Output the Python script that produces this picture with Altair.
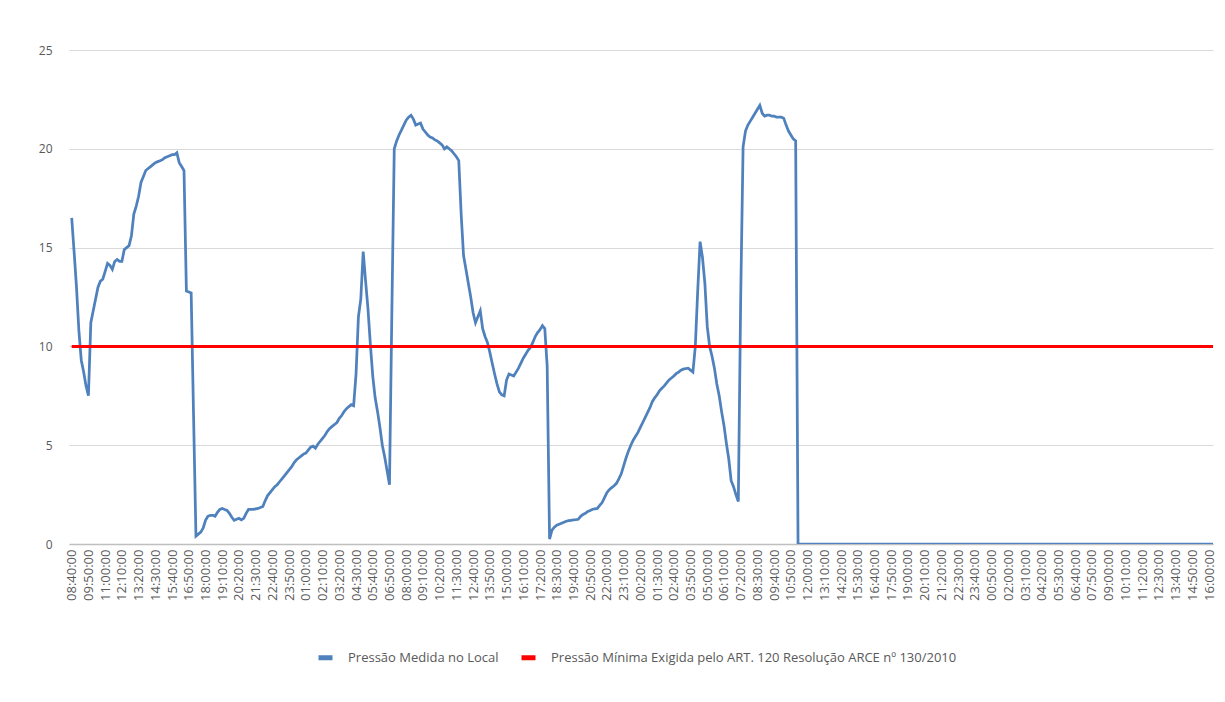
import altair as alt
import pandas as pd

# ---- data (10-minute readings) ----
start_time = "2016-03-01 08:40:00"
step_minutes = 10

pressure_measured = [
    16.5, 14.8, 13.0, 10.8, 9.3, 8.7, 8.0, 7.5, 11.2, 11.8,
    12.4, 13.0, 13.3, 13.4, 13.8, 14.2, 14.1, 13.9, 14.3, 14.4,
    14.3, 14.3, 14.9, 15.0, 15.1, 15.6, 16.7, 17.1, 17.6, 18.3,
    18.6, 18.9, 19.0, 19.1, 19.2, 19.3, 19.35, 19.4, 19.45, 19.55,
    19.6, 19.65, 19.7, 19.7, 19.8, 19.3, 19.1, 18.9, 12.8, 12.75,
    12.7, 6.5, 0.4, 0.5, 0.6, 0.8, 1.2, 1.4, 1.45, 1.45,
    1.4, 1.6, 1.75, 1.8, 1.75, 1.7, 1.55, 1.35, 1.2, 1.25,
    1.3, 1.22, 1.3, 1.55, 1.75, 1.75, 1.75, 1.78, 1.8, 1.85,
    1.9, 2.2, 2.45, 2.6, 2.75, 2.9, 3.0, 3.15, 3.3, 3.45,
    3.6, 3.75, 3.9, 4.1, 4.25, 4.35, 4.45, 4.55, 4.6, 4.75,
    4.9, 4.95, 4.85, 5.05, 5.2, 5.35, 5.5, 5.7, 5.85, 5.95,
    6.05, 6.15, 6.36, 6.5, 6.7, 6.85, 6.95, 7.05, 7.0, 8.6,
    11.5, 12.4, 14.8, 13.3, 11.9, 10.1, 8.5, 7.4, 6.7, 5.9,
    5.0, 4.4, 3.7, 3.0, 11.8, 20.0, 20.4, 20.7, 20.95, 21.2,
    21.45, 21.6, 21.7, 21.5, 21.2, 21.25, 21.3, 21.0, 20.85, 20.7,
    20.6, 20.55, 20.45, 20.4, 20.3, 20.2, 20.0, 20.1, 20.0, 19.9,
    19.75, 19.6, 19.4, 16.7, 14.6, 13.9, 13.2, 12.5, 11.7, 11.2,
    11.5, 11.8, 10.9, 10.5, 10.2, 9.7, 9.15, 8.6, 8.1, 7.7,
    7.55, 7.5, 8.3, 8.6, 8.55, 8.5, 8.7, 8.9, 9.15, 9.4,
    9.6, 9.8, 9.95, 10.2, 10.5, 10.7, 10.85, 11.05, 10.9, 9.0,
    0.25, 0.7, 0.85, 0.95, 1.0, 1.05, 1.1, 1.15, 1.18, 1.2,
    1.22, 1.23, 1.25, 1.4, 1.5, 1.55, 1.65, 1.7, 1.76, 1.78,
    1.8, 1.95, 2.1, 2.35, 2.6, 2.75, 2.85, 2.95, 3.07, 3.3,
    3.55, 3.95, 4.35, 4.7, 5.0, 5.25, 5.45, 5.65, 5.9, 6.15,
    6.4, 6.65, 6.9, 7.2, 7.4, 7.55, 7.75, 7.88, 8.0, 8.15,
    8.3, 8.4, 8.5, 8.62, 8.7, 8.8, 8.85, 8.88, 8.9, 8.8,
    8.7, 10.0, 12.8, 15.3, 14.5, 13.2, 11.0, 10.0, 9.5, 8.9,
    8.1, 7.5, 6.7, 6.0, 5.1, 4.3, 3.2, 2.9, 2.5, 2.15,
    12.5, 20.1, 20.9, 21.2, 21.4, 21.6, 21.8, 22.0, 22.2, 21.8,
    21.65, 21.7, 21.7, 21.65, 21.65, 21.6, 21.6, 21.6, 21.55, 21.2,
    20.9, 20.7, 20.5, 20.4,
]
# readings after the sensor went to zero (flat at 0 to the right edge)
pressure_after_cutoff = [0.0] * 176

minimum_required = 10.0

series_measured = "Pressão Medida no Local"
series_minimum = "Pressão Mínima Exigida pelo ART. 120 Resolução ARCE nº 130/2010"

label_every = 7          # one tick label every 7 readings (70 minutes)
last_label_index = 476   # last label: 16:00:00
y_ticks = [0, 5, 10, 15, 20, 25]

# ---- build tables ----
values = pressure_measured + pressure_after_cutoff
t0 = pd.Timestamp(start_time)
times = [t0 + pd.Timedelta(minutes=step_minutes * i) for i in range(len(values))]

df_measured = pd.DataFrame({"time": times, "value": values, "series": series_measured})
df_minimum = pd.DataFrame({"time": times, "value": [minimum_required] * len(times),
                           "series": series_minimum})


def dt(ts):
    return alt.DateTime(year=ts.year, month=ts.month, date=ts.day,
                        hours=ts.hour, minutes=ts.minute, seconds=ts.second)


tick_values = [dt(times[i]) for i in range(0, last_label_index + 1, label_every)]
domain_start = t0 - pd.Timedelta(seconds=680)
domain_end = times[last_label_index] + pd.Timedelta(seconds=1004)

FONT = "Open Sans"
TEXT = "#595959"
FS = 13

x_enc = alt.X(
    "time:T",
    scale=alt.Scale(domain=[dt(domain_start), dt(domain_end)], nice=False),
    axis=alt.Axis(
        title=None, values=tick_values, format="%H:%M:%S", labelAngle=-90,
        labelAlign="right", labelBaseline="middle", ticks=False, tickSize=0,
        labelPadding=5, grid=False, domainColor="#BFBFBF", domainWidth=1.5,
        labelFont=FONT, labelFontSize=FS, labelColor=TEXT, labelOverlap=False,
        labelBound=False, labelFlush=False,
    ),
)
y_enc = alt.Y(
    "value:Q",
    scale=alt.Scale(domain=[0, 25], nice=False),
    axis=alt.Axis(
        title=None, values=y_ticks, ticks=False, tickSize=0, domain=False,
        labelPadding=17, gridColor="#D9D9D9", gridWidth=1,
        labelFont=FONT, labelFontSize=FS - 1, labelColor=TEXT,
    ),
)
color_enc = alt.Color(
    "series:N",
    scale=alt.Scale(domain=[series_measured, series_minimum], range=["#4F81BD", "#FF0000"]),
    legend=alt.Legend(
        title=None, orient="none", legendX=247, legendY=598, direction="horizontal",
        symbolType="stroke", symbolSize=196, symbolStrokeWidth=5,
        labelFont=FONT, labelFontSize=FS, labelColor=TEXT, labelLimit=0,
        labelOffset=13, columnPadding=12, padding=0,
    ),
)

measured = alt.Chart(df_measured).mark_line(strokeWidth=2.75, clip=True).encode(
    x=x_enc, y=y_enc, color=color_enc
)
minimum = alt.Chart(df_minimum).mark_line(strokeWidth=3, clip=True).encode(
    x=x_enc, y=y_enc, color=color_enc
)

chart = (
    alt.layer(measured, minimum)
    .properties(
        width=1144, height=494,
        autosize=alt.AutoSizeParams(type="none"),
        padding={"left": 61, "top": 42, "right": 4, "bottom": 150},
        background="white",
    )
    .configure_view(stroke=None)
)

chart.save("out.html", embed_options={"renderer": "svg", "actions": False})
